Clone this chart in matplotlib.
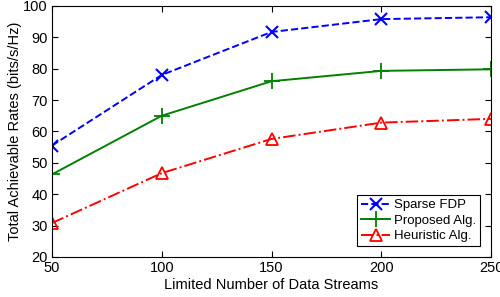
import matplotlib
matplotlib.use("Agg")
import matplotlib.pyplot as plt

streams = [50, 100, 150, 200, 250]
sparse_fdp = [55.5, 78.0, 91.7, 95.8, 96.4]
proposed = [46.3, 65.0, 76.0, 79.3, 79.8]
heuristic = [30.8, 46.7, 57.6, 62.8, 64.0]

plt.rcParams["font.family"] = ["Liberation Sans", "DejaVu Sans"]
plt.rcParams["font.size"] = 10.5

fig = plt.figure(figsize=(5.0, 2.97), dpi=100)
ax = fig.add_axes([0.104, 0.135, 0.878, 0.845])

ax.plot(streams, sparse_fdp, color="blue", linestyle="--", marker="x",
        markersize=8, markeredgewidth=1.5, linewidth=1.4, label="Sparse FDP")
ax.plot(streams, proposed, color="green", linestyle="-", marker="+",
        markersize=11, markeredgewidth=1.3, linewidth=1.4, label="Proposed Alg.")
ax.plot(streams, heuristic, color="red", linestyle="-.", marker="^",
        markersize=8, markerfacecolor="none", markeredgewidth=1.3,
        linewidth=1.4, label="Heuristic Alg.")

ax.set_xlim(50, 250)
ax.set_ylim(20, 100)
ax.set_xticks(streams)
ax.set_yticks(range(20, 101, 10))
ax.tick_params(direction="in", top=True, right=True, length=4, pad=3)
ax.set_xlabel("Limited Number of Data Streams", labelpad=2)
ax.set_ylabel("Total Achievable Rates (bits/s/Hz)", labelpad=1)

leg = ax.legend(loc="lower right", fancybox=False, edgecolor="black",
                framealpha=1, borderpad=0.3, labelspacing=0.25,
                handlelength=2.2, handletextpad=0.3, fontsize=9.5,
                borderaxespad=0.8)
leg.get_frame().set_linewidth(0.8)

fig.savefig("out.png", dpi=100)
